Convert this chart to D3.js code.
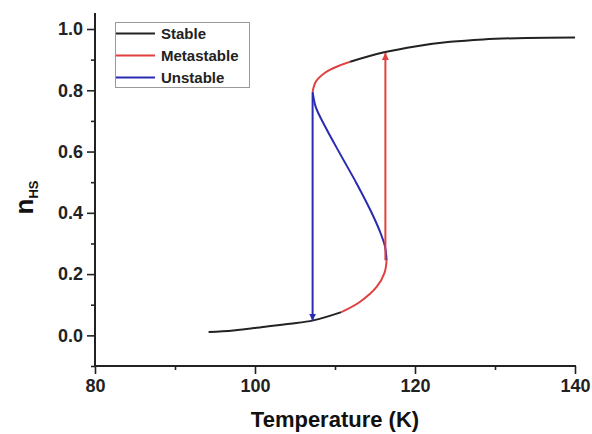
<!DOCTYPE html>
<html>
<head>
<meta charset="utf-8">
<script src="https://cdn.jsdelivr.net/npm/d3@7/dist/d3.min.js"></script>
<style>
  html, body { margin: 0; padding: 0; background: #fff; }
  svg { display: block; font-family: Arial, "Liberation Sans", sans-serif; }
</style>
</head>
<body>
<svg id="chart" width="592" height="434"></svg>
<script>
// High-spin fraction n_HS versus temperature, split into stability regimes
const stableLow  = [[94.2,0.011],[97.3,0.016],[101.5,0.029],[104.4,0.038],[107.3,0.049],[110.8,0.076]];
const metaLow    = [[110.8,0.076],[113.1,0.109],[115.2,0.158],[116.2,0.205],[116.45,0.245]];
const unstable   = [[116.45,0.245],[116.25,0.29],[115.6,0.34],[114.4,0.41],[112.7,0.496],[110.6,0.594],[108.7,0.685],[107.6,0.745],[107.2,0.795]];
const metaHigh   = [[107.2,0.795],[107.6,0.828],[108.8,0.858],[110.5,0.880],[111.9,0.893]];
const stableHigh = [[111.9,0.893],[116.0,0.923],[120.2,0.944],[124.4,0.958],[128.5,0.966],[132.7,0.970],[140.0,0.972]];

// Hysteresis jumps: cooling (down) and heating (up)
const coolingJump = { T: 107.2, from: 0.79, to: 0.048 };
const heatingJump = { T: 116.3, from: 0.245, to: 0.922 };

const xTicks = [80, 100, 120, 140];
const xMinor = [90, 110, 130];
const yTicks = [0.0, 0.2, 0.4, 0.6, 0.8, 1.0];
const yMinor = [-0.1, 0.1, 0.3, 0.5, 0.7, 0.9];

const legendItems = [
  { label: "Stable", color: "#222222" },
  { label: "Metastable", color: "#e0403f" },
  { label: "Unstable", color: "#2a2ab4" }
];

const svg = d3.select("#chart");
const x = d3.scaleLinear().domain([80, 140]).range([95, 575]);
const y = d3.scaleLinear().domain([-0.1, 1.0]).range([366, 29]);
const yTop = 1.052;

// Axes
const axisColor = "#222";
const gx = svg.append("g").attr("transform", `translate(0,${y(-0.1)})`);
gx.call(d3.axisBottom(x).tickValues(xTicks).tickSize(8).tickPadding(5).tickFormat(d3.format("d")));
gx.append("g").call(d3.axisBottom(x).tickValues(xMinor).tickSize(4).tickFormat(""));
gx.selectAll(".domain").remove();
gx.append("line").attr("x1", x(80) - 1).attr("x2", x(140) + 1).attr("stroke", axisColor).attr("stroke-width", 2);

const gy = svg.append("g").attr("transform", `translate(${x(80)},0)`);
gy.call(d3.axisLeft(y).tickValues(yTicks).tickSize(8).tickPadding(4).tickFormat(d3.format(".1f")));
gy.append("g").call(d3.axisLeft(y).tickValues(yMinor).tickSize(4).tickFormat(""));
gy.selectAll(".domain").remove();
gy.append("line").attr("y1", y(yTop)).attr("y2", y(-0.1) + 1).attr("stroke", axisColor).attr("stroke-width", 2);

svg.selectAll(".tick line").attr("stroke", axisColor).attr("stroke-width", 1.6);
svg.selectAll(".tick text")
  .attr("fill", "#222").style("font-size", "18px").style("font-weight", "bold")
  .style("font-family", "Arial, 'Liberation Sans', sans-serif");

// Axis titles
svg.append("text")
  .attr("x", x(110)).attr("y", 427)
  .attr("text-anchor", "middle")
  .style("font-size", "22px").style("font-weight", "bold").attr("fill", "#111")
  .text("Temperature (K)");

const yl = svg.append("text")
  .attr("transform", `translate(33,${y(0.45)}) rotate(-90)`)
  .attr("text-anchor", "middle")
  .style("font-weight", "bold").attr("fill", "#111");
yl.append("tspan").style("font-size", "26px").text("n");
yl.append("tspan").style("font-size", "13px").attr("dy", 5).text("HS");

// Curves
const line = d3.line().x(d => x(d[0])).y(d => y(d[1])).curve(d3.curveCatmullRom.alpha(0.5));
const segs = [
  [stableLow, legendItems[0].color],
  [metaLow, legendItems[1].color],
  [unstable, legendItems[2].color],
  [metaHigh, legendItems[1].color],
  [stableHigh, legendItems[0].color]
];
svg.append("g").selectAll("path").data(segs).join("path")
  .attr("d", d => line(d[0]))
  .attr("fill", "none").attr("stroke", d => d[1]).attr("stroke-width", 2);

// Arrow markers
const defs = svg.append("defs");
function marker(id, color) {
  defs.append("marker").attr("id", id)
    .attr("viewBox", "0 0 10 10").attr("refX", 10).attr("refY", 5)
    .attr("markerWidth", 7).attr("markerHeight", 7).attr("markerUnits", "userSpaceOnUse")
    .attr("orient", "auto")
    .append("path").attr("d", "M0,0L10,5L0,10Z").attr("fill", color);
}
marker("headBlue", legendItems[2].color);
marker("headRed", legendItems[1].color);

svg.append("line")
  .attr("x1", x(coolingJump.T)).attr("x2", x(coolingJump.T))
  .attr("y1", y(coolingJump.from)).attr("y2", y(coolingJump.to))
  .attr("stroke", legendItems[2].color).attr("stroke-width", 2)
  .attr("marker-end", "url(#headBlue)");
svg.append("line")
  .attr("x1", x(heatingJump.T)).attr("x2", x(heatingJump.T))
  .attr("y1", y(heatingJump.from)).attr("y2", y(heatingJump.to))
  .attr("stroke", legendItems[1].color).attr("stroke-width", 2)
  .attr("marker-end", "url(#headRed)");

// Legend
const lg = svg.append("g");
lg.append("rect").attr("x", 115.5).attr("y", 22.5).attr("width", 134).attr("height", 65)
  .attr("fill", "#fff").attr("stroke", "#999").attr("stroke-width", 1);
const rows = lg.selectAll("g.row").data(legendItems).join("g")
  .attr("class", "row").attr("transform", (d, i) => `translate(0,${33.5 + i * 22})`);
rows.append("line").attr("x1", 116).attr("x2", 155)
  .attr("stroke", d => d.color).attr("stroke-width", 2);
rows.append("text").attr("x", 161).attr("y", 5.5)
  .style("font-size", "15px").style("font-weight", "bold").attr("fill", "#222")
  .text(d => d.label);
</script>
</body>
</html>
